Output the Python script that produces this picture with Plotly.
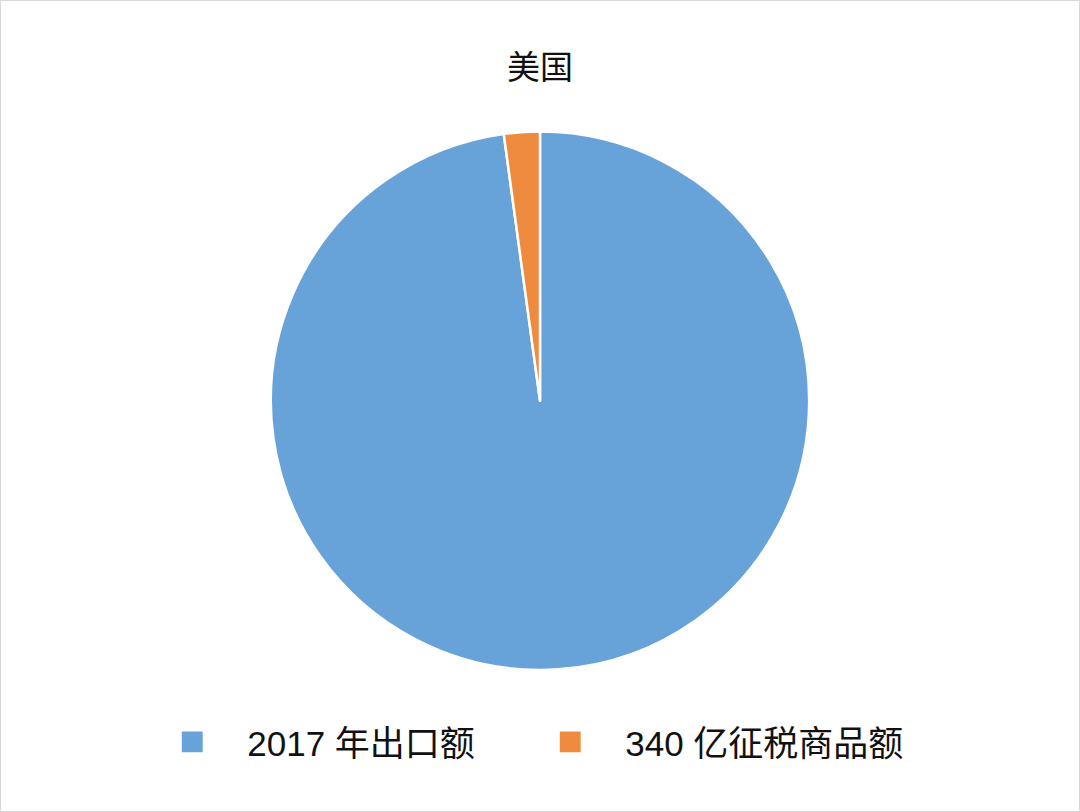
import plotly.graph_objects as go

labels = ["2017 年出口额", "340 亿征税商品额"]
values = [15467, 340]
colors = ["#67A3D9", "#EF8B3F"]

fig = go.Figure()
fig.add_trace(go.Pie(
    labels=labels,
    values=values,
    sort=False,
    direction="clockwise",
    rotation=0,
    textinfo="none",
    hoverinfo="label+value+percent",
    marker=dict(colors=colors, line=dict(color="white", width=2.5)),
    domain=dict(x=[0.25, 0.75], y=[0.175, 0.838]),
))

fig.update_layout(
    width=1080,
    height=812,
    margin=dict(l=0, r=0, t=0, b=0),
    paper_bgcolor="white",
    font=dict(family="Liberation Sans, Noto Sans CJK SC, sans-serif", color="#111111"),
    title=dict(text="美国", x=0.5, xanchor="center", y=0.917, yanchor="middle",
               font=dict(size=33, color="#111111")),
    legend=dict(orientation="h", x=0.528, xanchor="center", y=0.086, yanchor="middle",
                font=dict(size=35), itemwidth=45, entrywidth=318,
                traceorder="normal"),
    shapes=[dict(type="rect", xref="paper", yref="paper", x0=0, x1=1, y0=0, y1=1,
                 line=dict(color="#d9d9d9", width=2))],
)

# no page margin, and bigger legend squares like the original
post = """
document.body.style.margin = '0';
var gd = document.getElementById('{plot_id}');
gd.querySelectorAll('.legend [clip-path]').forEach(function (el) {
    el.removeAttribute('clip-path');
});
gd.querySelectorAll('.legendpoints path').forEach(function (p) {
    p.setAttribute('transform', 'scale(2.2)');
});
"""

fig.write_html("out.html", post_script=post, config={"displayModeBar": False})
